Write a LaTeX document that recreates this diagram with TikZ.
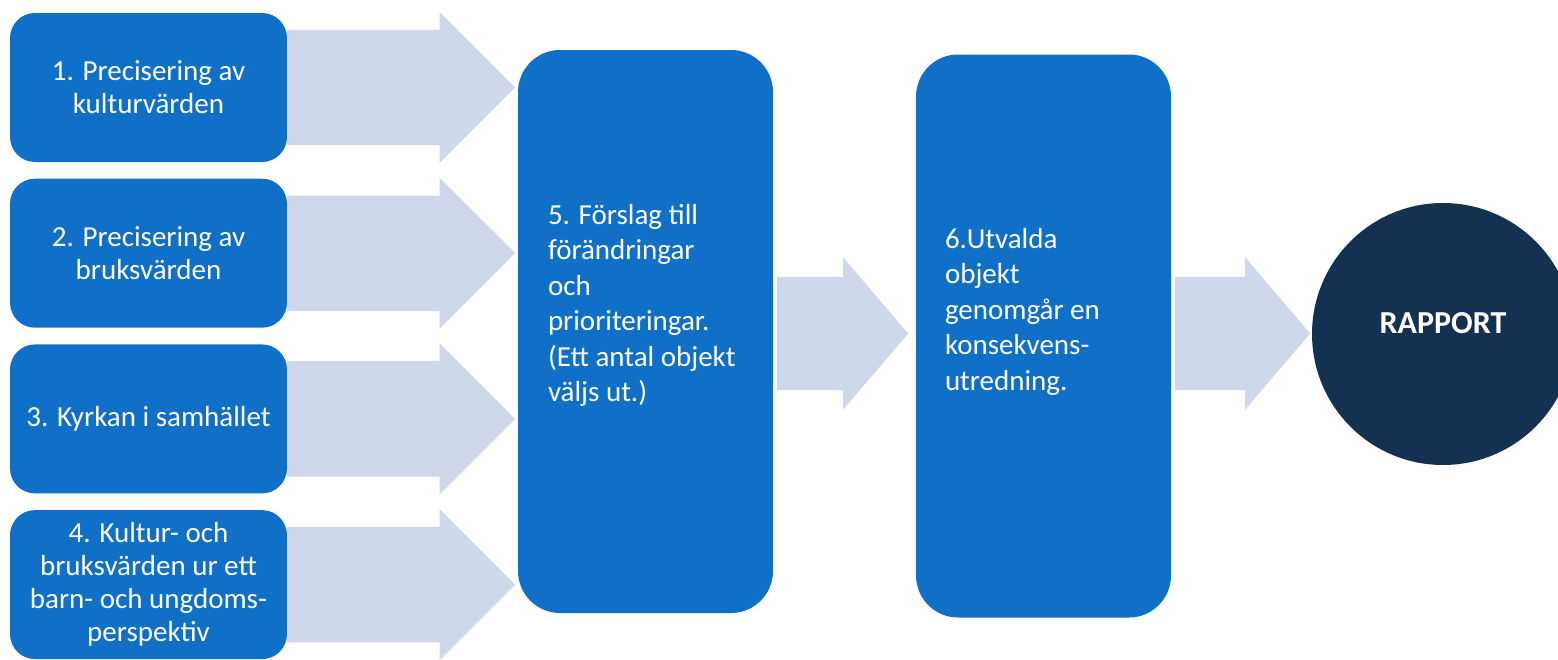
\documentclass[tikz,border=0pt]{standalone}
\usepackage{fontspec}
\setmainfont{Carlito}
\usetikzlibrary{shapes.arrows}
\definecolor{boxblue}{HTML}{106FC6}
\definecolor{flowgrey}{HTML}{CFD7EA}
\definecolor{navy}{HTML}{143152}
\begin{document}
\begin{tikzpicture}[x=1pt,y=-1pt]
    \tikzstyle{stage}=[rectangle,rounded corners=25pt,fill=boxblue,text=white,minimum width=277pt,minimum height=149pt,align=center,font=\fontsize{29}{33}\selectfont]
    \tikzstyle{phase}=[rectangle,rounded corners=42pt,fill=boxblue,minimum width=255pt,minimum height=563pt]
    \tikzstyle{phasetext}=[text=white,align=left,anchor=west,inner sep=0pt,font=\fontsize{29}{35.5}\selectfont]
    \tikzstyle{flow}=[single arrow,fill=flowgrey,inner xsep=0pt,outer sep=0pt,anchor=tail]
    \useasboundingbox (0,0) rectangle (1558,659);
    \begin{scope}
        \node [stage] (s1) at (148.5,87.5) {1. Precisering av\\kulturvärden};
        \node [stage] (s2) at (148.5,253.2) {2. Precisering av\\bruksvärden};
        \node [stage] (s3) at (148.5,418.9) {3. Kyrkan i samhället};
        \node [stage] (s4) at (148.5,584.6) {4. Kultur- och\\bruksvärden ur ett\\barn- och ungdoms-\\perspektiv};
        \node [phase] (p5) at (645.5,331.5) {};
        \node [phase] (p6) at (1043.5,336) {};
        \node [circle,fill=navy,minimum size=262pt,inner sep=0pt] (rep) at (1443,334) {};
        % block arrows
        \node [flow,inner ysep=57.5pt,single arrow head extend=18pt,minimum height=228pt] (f1) at (s1.east) {};
        \node [flow,inner ysep=57.5pt,single arrow head extend=18pt,minimum height=228pt] (f2) at (s2.east) {};
        \node [flow,inner ysep=57.5pt,single arrow head extend=18pt,minimum height=228pt] (f3) at (s3.east) {};
        \node [flow,inner ysep=57.5pt,single arrow head extend=18pt,minimum height=228pt] (f4) at (s4.east) {};
        \node [flow,inner ysep=56.5pt,single arrow head extend=19.5pt,single arrow tip angle=99,minimum height=131pt] (f5) at ([xshift=4pt]p5.east |- 0,333.5) {};
        \node [flow,inner ysep=56.5pt,single arrow head extend=19.5pt,single arrow tip angle=99,minimum height=135pt] (f6) at ([xshift=4pt]p6.east |- 0,333.5) {};
        % texts
        \node [phasetext] (t5) at ([xshift=30pt,yshift=26pt]p5.west) {5. Förslag till\\förändringar\\och\\prioriteringar.\\(Ett antal objekt\\väljs ut.)};
        \node [phasetext] (t6) at ([xshift=29pt,yshift=24.5pt]p6.west) {6.Utvalda\\objekt\\genomgår en\\konsekvens-\\utredning.};
        \node [text=white,font=\bfseries\fontsize{32}{38}\selectfont] (t7) at ([yshift=11pt]rep.center) {RAPPORT};
    \end{scope}
\end{tikzpicture}
\end{document}
